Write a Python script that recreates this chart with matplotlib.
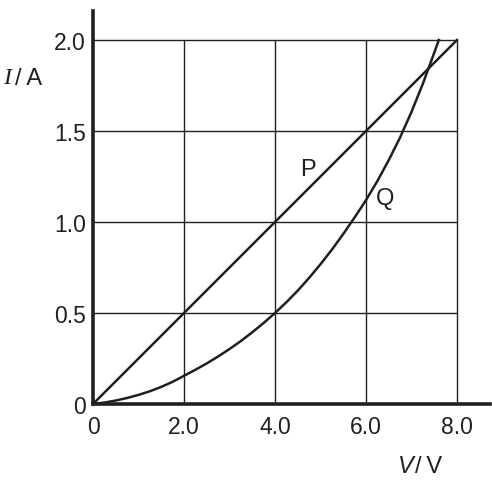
import matplotlib
matplotlib.use('Agg')
import matplotlib.pyplot as plt

# datos
v_p = [0, 8.0]
i_p = [0, 2.0]

v_q = [0, 0.25, 0.5, 0.75, 1, 1.25, 1.5, 1.75, 2, 2.25, 2.5, 2.75, 3, 3.25,
       3.5, 3.75, 4, 4.25, 4.5, 4.75, 5, 5.25, 5.5, 5.75, 6, 6.25, 6.5, 6.75,
       7, 7.25, 7.5, 7.6]
i_q = [0, 0.008, 0.019, 0.033, 0.05, 0.07, 0.094, 0.122, 0.155, 0.188, 0.223,
       0.261, 0.302, 0.346, 0.394, 0.445, 0.5, 0.559, 0.623, 0.693, 0.768,
       0.848, 0.934, 1.025, 1.12, 1.225, 1.34, 1.465, 1.605, 1.76, 1.93, 2.0]

x_ticks = [0, 2, 4, 6, 8]
x_labels = ['0', '2.0', '4.0', '6.0', '8.0']
y_ticks = [0, 0.5, 1.0, 1.5, 2.0]
y_labels = ['0', '0.5', '1.0', '1.5', '2.0']

ink = '#231f20'
plt.rcParams['font.family'] = ['Liberation Sans', 'DejaVu Sans']

fig = plt.figure(figsize=(4.92, 4.81), dpi=100)
ax = fig.add_axes([93 / 492, 76 / 481, 397 / 492, 393 / 481])
ax.set_xlim(0, 397 / 45.5)
ax.set_ylim(0, 393 / 182)

# cuadricula solo dentro de 0..8 y 0..2
ax.vlines(x_ticks[1:], 0, 2.0, color=ink, lw=1.0, zorder=1)
ax.hlines(y_ticks[1:], 0, 8.0, color=ink, lw=1.0, zorder=1)

ax.plot(v_p, i_p, color=ink, lw=1.8, zorder=2)
ax.plot(v_q, i_q, color=ink, lw=1.8, zorder=2)

ax.text(4.73, 1.29, 'P', fontsize=17, color=ink, ha='center', va='center')
ax.text(6.42, 1.13, 'Q', fontsize=17, color=ink, ha='center', va='center')

for s in ['top', 'right']:
    ax.spines[s].set_visible(False)
for s in ['left', 'bottom']:
    ax.spines[s].set_linewidth(2.6)
    ax.spines[s].set_color(ink)

ax.set_xticks(x_ticks)
ax.set_xticklabels(x_labels)
ax.set_yticks(y_ticks)
ax.set_yticklabels(y_labels)
ax.tick_params(length=0, labelsize=16.5, colors=ink)
ax.tick_params(axis='y', pad=5)
ax.tick_params(axis='x', pad=8)

# etiquetas de los ejes
fig.text(3 / 492, 1 - 79 / 481, 'I', family='Liberation Serif', style='italic',
         fontsize=17.5, color=ink, ha='left', va='center')
fig.text(15 / 492, 1 - 79 / 481, '/\u2009A', fontsize=17, color=ink,
         ha='left', va='center')
fig.text(398 / 492, 1 - 467 / 481, 'V', style='italic', fontsize=17, color=ink,
         ha='left', va='center')
fig.text(415 / 492, 1 - 467 / 481, '/\u2009V', fontsize=17, color=ink,
         ha='left', va='center')

plt.savefig('out.png', dpi=100)
